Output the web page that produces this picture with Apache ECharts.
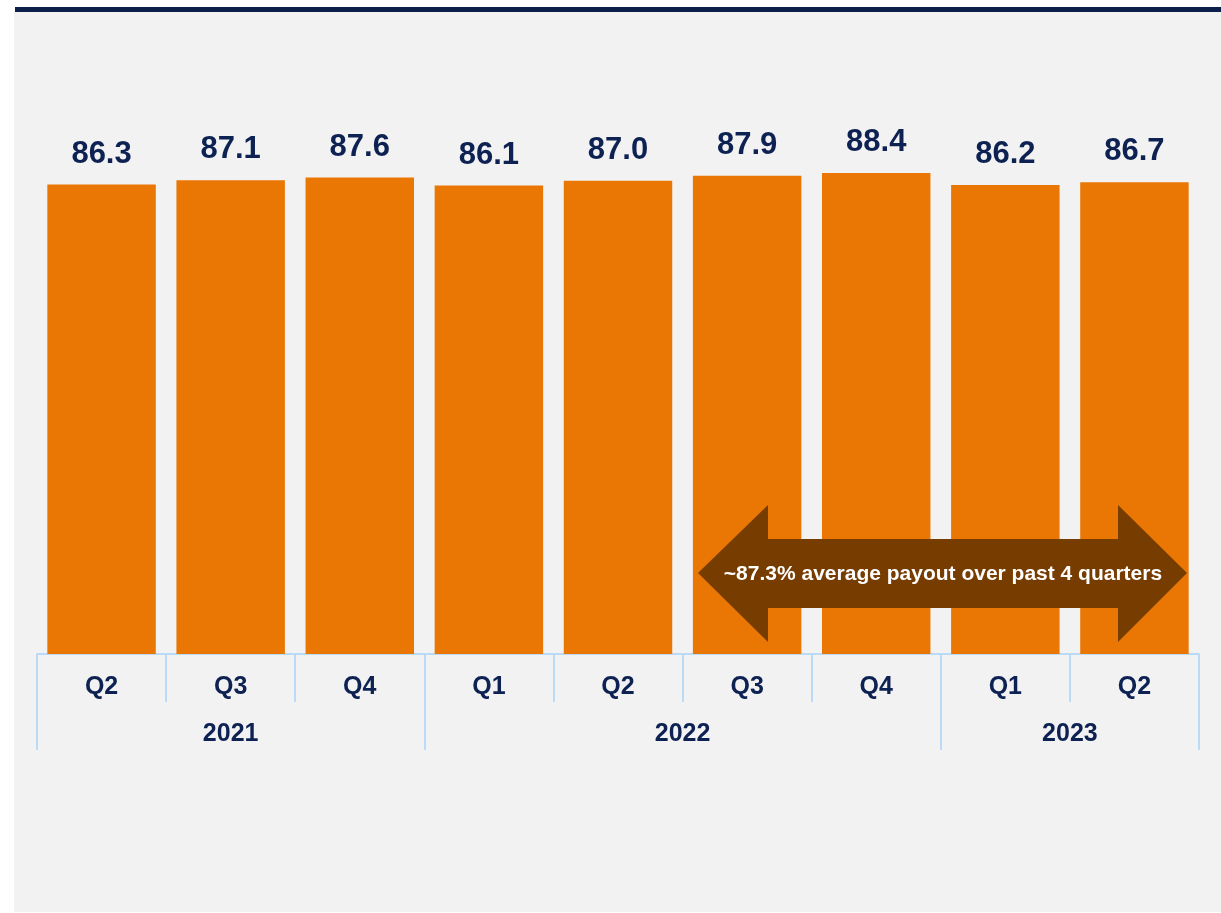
<!DOCTYPE html>
<html>
<head>
<meta charset="utf-8">
<script src="https://cdn.jsdelivr.net/npm/echarts@6/dist/echarts.min.js"></script>
<style>
  html, body { margin: 0; padding: 0; background: #fff; }
  #main { width: 1221px; height: 913px; }
</style>
</head>
<body>
<div id="main"></div>
<script>
// quarters along the bottom, payout ratio per quarter
var quarters = ['Q2', 'Q3', 'Q4', 'Q1', 'Q2', 'Q3', 'Q4', 'Q1', 'Q2'];
var payout = [86.3, 87.1, 87.6, 86.1, 87.0, 87.9, 88.4, 86.2, 86.7];
// year groups: boundaries and label centres in category units
var years = ['2021', '2022', '2023'];
var yearBounds = [0, 3, 7, 9];
var yearMids = [1.5, 5, 8];
var arrowText = '~87.3% average payout over past 4 quarters';

var navy = '#0d2252';
var axisBlue = '#b9dbf7';
var font = 'Liberation Sans, Arial, sans-serif';

var myChart = echarts.init(document.getElementById('main'));

var option = {
    backgroundColor: '#ffffff',
    animation: false,
    grid: { left: 37, right: 22, top: 110, bottom: 259 },
    xAxis: [
        {
            type: 'category',
            data: quarters,
            position: 'bottom',
            axisLine: { lineStyle: { color: axisBlue, width: 2 } },
            axisTick: { show: true, length: 48, lineStyle: { color: axisBlue, width: 2 } },
            axisLabel: { color: navy, fontFamily: font, fontWeight: 'bold', fontSize: 25, margin: 21 }
        },
        {
            type: 'value',
            min: 0,
            max: 9,
            position: 'bottom',
            splitLine: { show: false },
            axisLine: { show: false },
            axisTick: { show: true, length: 96, customValues: yearBounds, lineStyle: { color: axisBlue, width: 2 } },
            axisLabel: {
                customValues: yearMids,
                color: navy, fontFamily: font, fontWeight: 'bold', fontSize: 25, margin: 68,
                formatter: function (v) { return years[yearMids.indexOf(v)]; }
            }
        }
    ],
    yAxis: {
        type: 'value',
        min: 0,
        max: 100,
        show: false
    },
    series: [
        {
            type: 'bar',
            data: payout,
            barCategoryGap: '16%',
            itemStyle: { color: '#ea7604' },
            label: {
                show: true,
                position: 'top',
                distance: 15,
                color: navy,
                fontFamily: font,
                fontWeight: 'bold',
                fontSize: 31,
                formatter: function (p) { return p.value.toFixed(1); }
            }
        }
    ],
    graphic: [
        // grey panel and navy rule on top
        { type: 'rect', z: -10, shape: { x: 14, y: 12, width: 1207, height: 900 }, style: { fill: '#f2f2f2' } },
        { type: 'rect', z: -9, shape: { x: 15, y: 7, width: 1206, height: 5 }, style: { fill: '#0c1f4b' } },
        // double arrow annotation
        {
            type: 'polygon',
            z: 100,
            shape: {
                points: [[698, 573], [768, 505], [768, 539], [1118, 539], [1118, 505],
                         [1187, 573], [1118, 642], [1118, 608], [768, 608], [768, 642]]
            },
            style: { fill: '#773c00' }
        },
        {
            type: 'text',
            z: 101,
            x: 943,
            y: 574,
            style: {
                text: arrowText,
                fill: '#ffffff',
                font: 'bold 21px ' + font,
                align: 'center',
                verticalAlign: 'middle'
            }
        }
    ]
};

if (option && typeof option === 'object') {
    myChart.setOption(option, true);
}
</script>
</body>
</html>
